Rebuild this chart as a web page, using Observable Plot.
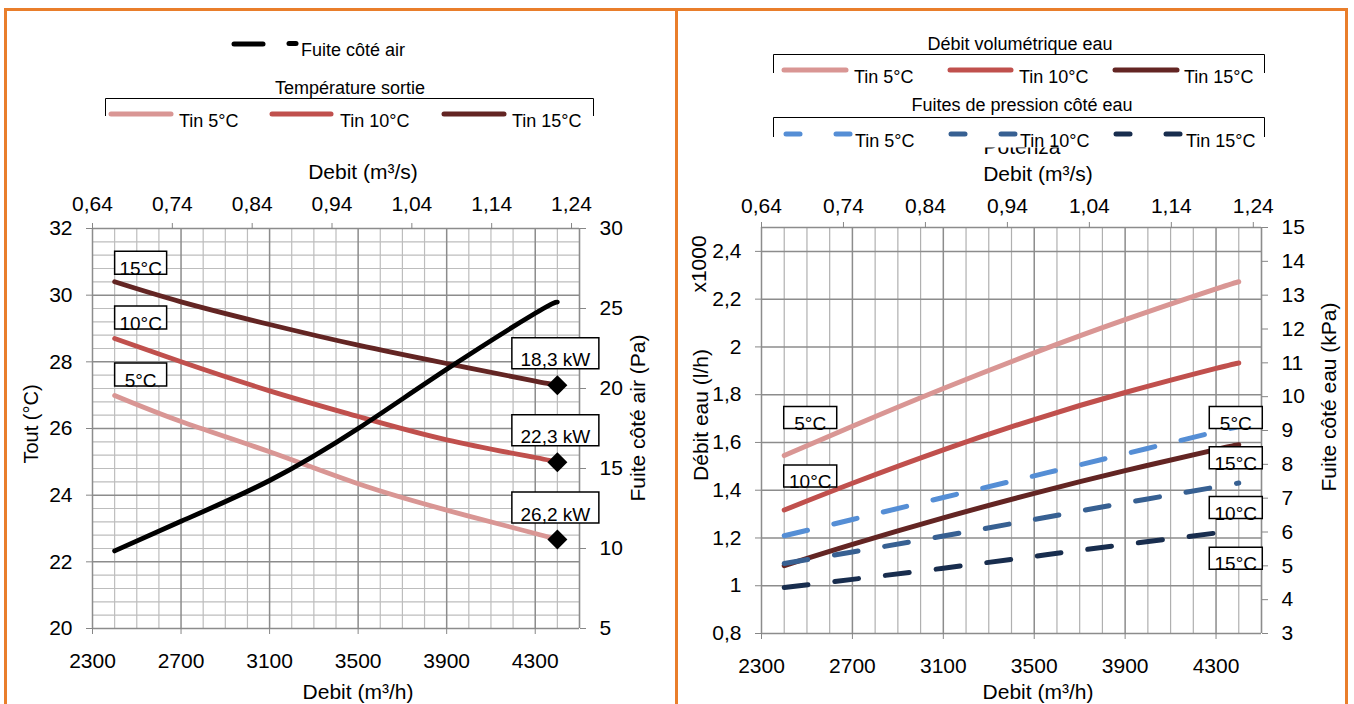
<!DOCTYPE html>
<html>
<head>
<meta charset="utf-8">
<script src="https://cdn.jsdelivr.net/npm/d3@7"></script>
<script src="https://cdn.jsdelivr.net/npm/@observablehq/plot@0.6"></script>
<style>
  body { margin: 0; background: #fff; }
  #root { position: relative; width: 1354px; height: 704px; overflow: hidden; font-family: "Liberation Sans", Arial, sans-serif; }
  .panel { position: absolute; border: 3px solid #E97E2B; box-sizing: border-box; }
  #chartL, #chartR { position: absolute; top: 0; }
  #overlay { position: absolute; left: 0; top: 0; }
</style>
</head>
<body>
<div id="root">
  <div class="panel" style="left:4px;top:8px;width:674px;height:740px"></div>
  <div class="panel" style="left:675px;top:8px;width:673px;height:740px"></div>
  <div id="chartL" style="left:0;width:675px;height:704px"></div>
  <div id="chartR" style="left:675px;width:679px;height:704px"></div>
  <svg id="overlay" width="1354" height="704"></svg>
</div>
<script>
// ---------- DATA ----------
const debit = [2400, 2700, 3100, 3500, 3900, 4300, 4400];           // m3/h
const toutTin5  = [26.99, 26.21, 25.30, 24.34, 23.55, 22.85, 22.67];   // °C
const toutTin10 = [28.70, 28.00, 27.13, 26.36, 25.66, 25.13, 24.99];
const toutTin15 = [30.40, 29.80, 29.12, 28.50, 27.95, 27.42, 27.30];
const fuiteAirPa = [9.85, 11.70, 14.25, 17.50, 21.20, 24.70, 25.40];  // Pa
const puissance = ["26,2 kW", "22,3 kW", "18,3 kW"];                  // Tin 5, 10, 15
const debitEauTin5  = [1.545, 1.668, 1.826, 1.975, 2.114, 2.243, 2.273]; // x1000 l/h
const debitEauTin10 = [1.317, 1.429, 1.569, 1.696, 1.809, 1.910, 1.933];
const debitEauTin15 = [1.084, 1.173, 1.284, 1.387, 1.482, 1.570, 1.590];
const fuiteEauTin5  = [5.89, 6.37, 7.02, 7.66, 8.31, 8.96, 9.12];     // kPa
const fuiteEauTin10 = [5.07, 5.41, 5.88, 6.37, 6.86, 7.33, 7.45];
const fuiteEauTin15 = [4.36, 4.60, 4.93, 5.28, 5.63, 5.97, 6.05];
const series = ["Tin 5°C", "Tin 10°C", "Tin 15°C"];
const seriesShort = ["5°C", "10°C", "15°C"];
const ticksDebitH = [2300, 2700, 3100, 3500, 3900, 4300];
const ticksDebitS = [0.64, 0.74, 0.84, 0.94, 1.04, 1.14, 1.24];
const ticksTout = [20, 22, 24, 26, 28, 30, 32];
const ticksPa = [5, 10, 15, 20, 25, 30];
const ticksDebitEau = [0.8, 1, 1.2, 1.4, 1.6, 1.8, 2, 2.2, 2.4];
const ticksKPa = [3, 4, 5, 6, 7, 8, 9, 10, 11, 12, 13, 14, 15];

// ---------- STYLE ----------
const FONT = '"Liberation Sans", Arial, sans-serif';
const colTemp = ["#D99694", "#C0504D", "#632523"];
const colPress = ["#558ED5", "#376092", "#182D4E"];
const cMinor = "#BDBDBD", cMajor = "#8C8C8C", cTick = "#868686";
const fmt = v => String(v).replace(".", ",");

// secondary-axis conversions
const yPa = v => 20 + (v - 5) * 12 / 25;
const paFromY = y => 5 + (y - 20) * 25 / 12;
const xFromS = v => 2300 + (v - 0.64) * 2200 / 0.61;
const sFromX = x => 0.64 + (x - 2300) * 0.61 / 2200;
const yK = v => 0.8 + (v - 3) * 1.7 / 12;
const kFromY = y => 3 + (y - 0.8) * 12 / 1.7;

const last = debit.length - 1;
const toutSeries = [toutTin5, toutTin10, toutTin15];
const eauSeries = [debitEauTin5, debitEauTin10, debitEauTin15];
const pressSeries = [fuiteEauTin5, fuiteEauTin10, fuiteEauTin15];

function axes(bottomTicks, topTicks, leftTicks, rightTicks, o) {
  const common = {fontSize: 21, stroke: cTick, label: null};
  return [
    Plot.axisX(bottomTicks, {...common, anchor: "bottom", tickSize: 6, tickPadding: o.bp, tickFormat: d => String(d)}),
    Plot.axisX(topTicks.map(xFromS), {...common, anchor: "top", tickSize: 6, tickPadding: o.tp, tickFormat: d => sFromX(d).toFixed(2).replace(".", ",")}),
    Plot.axisY(leftTicks.ticks, {...common, anchor: "left", tickSize: 6, tickPadding: 14, tickFormat: leftTicks.format}),
    Plot.axisY(rightTicks.ticks, {...common, anchor: "right", tickSize: 6, tickPadding: 14, tickFormat: rightTicks.format})
  ];
}

// rectangular symbol for boxed data labels
const boxSymbol = (w, h) => ({draw(ctx) { ctx.rect(-w / 2, -h / 2, w, h); }});

function boxLabel(a) {
  return [
    Plot.dot([a], {x: "x", y: "y", dx: a.dx, dy: a.dy, symbol: boxSymbol(a.w, a.h), r: 5,
      fill: "#fff", stroke: "#000", strokeWidth: 1.5}),
    Plot.text([a], {x: "x", y: "y", text: "text", dx: a.dx, dy: a.dy + a.t, fontSize: 19, fill: "#000",
      textAnchor: "middle", lineAnchor: "middle"})
  ];
}

// ---------- LEFT CHART ----------
const annotL = [
  {text: seriesShort[2], x: debit[0], y: toutTin15[0], dx: 26, dy: -19, w: 52, h: 23, t: 6},
  {text: seriesShort[1], x: debit[0], y: toutTin10[0], dx: 26, dy: -21, w: 52, h: 23, t: 6},
  {text: seriesShort[0], x: debit[0], y: toutTin5[0], dx: 26, dy: -21, w: 52, h: 23, t: 6},
  {text: puissance[2], x: debit[last], y: toutTin15[last], dx: -2, dy: -32, w: 87, h: 31, t: 7},
  {text: puissance[1], x: debit[last], y: toutTin10[last], dx: -2, dy: -32, w: 87, h: 31, t: 7},
  {text: puissance[0], x: debit[last], y: toutTin5[last], dx: -2, dy: -32, w: 87, h: 31, t: 7}
];
const endRows = toutSeries.map((s, i) => ({debit: debit[last], tout: s[last], label: puissance[i]}));

const minorYL = d3.range(0, 31).filter(i => i % 5 !== 0).map(i => 20 + i * 0.4);
const minorXs = d3.range(2300, 4501, 100).filter(v => (v - 2300) % 400 !== 0);
const majorXs = d3.range(2300, 4501, 400).concat([4500]);

const left = Plot.plot({
  width: 675, height: 704,
  marginLeft: 92, marginRight: 96, marginTop: 228, marginBottom: 76,
  x: {domain: [2300, 4500], label: null},
  y: {domain: [20, 32], label: null},
  style: {fontFamily: FONT, color: "#000", background: "transparent", overflow: "visible"},
  marks: [
    Plot.ruleX(minorXs, {stroke: cMinor, strokeWidth: 1.2}),
    Plot.ruleY(minorYL, {stroke: cMinor, strokeWidth: 1.2}),
    Plot.ruleX(majorXs, {stroke: cMajor, strokeWidth: 1.5}),
    Plot.ruleY(ticksTout, {stroke: cMajor, strokeWidth: 1.5}),
    ...axes(ticksDebitH, ticksDebitS,
      {ticks: ticksTout, format: d => String(d)},
      {ticks: ticksPa.map(yPa), format: d => String(Math.round(paFromY(d)))},
      {bp: 19, tp: 12}),
    ...toutSeries.map((s, i) => Plot.line(debit, {x: debit, y: s, stroke: colTemp[i], strokeWidth: 4.8,
      strokeLinecap: "round", curve: "natural"})),
    Plot.line(debit, {x: debit, y: fuiteAirPa.map(yPa), stroke: "#000", strokeWidth: 4.8, strokeLinecap: "round", curve: "natural"}),
    Plot.dot(endRows, {x: "debit", y: "tout", symbol: "diamond2", r: 9, fill: "#000", stroke: "none"}),
    ...annotL.flatMap(boxLabel)
  ]
});
document.getElementById("chartL").appendChild(left);

// ---------- RIGHT CHART ----------
const annotR = [
  {text: seriesShort[0], x: debit[0], y: debitEauTin5[0], dx: 26, dy: -38, w: 53, h: 22, t: 6},
  {text: seriesShort[1], x: debit[0], y: debitEauTin10[0], dx: 26, dy: -34, w: 53, h: 22, t: 6},
  {text: seriesShort[0], x: debit[last], y: yK(fuiteEauTin5[last]), dx: -3, dy: -9, w: 53, h: 22, t: 6},
  {text: seriesShort[2], x: debit[last], y: debitEauTin15[last], dx: -3, dy: 13, w: 53, h: 22, t: 6},
  {text: seriesShort[1], x: debit[last], y: yK(fuiteEauTin10[last]), dx: -3, dy: 24.5, w: 53, h: 22, t: 6},
  {text: seriesShort[2], x: debit[last], y: yK(fuiteEauTin15[last]), dx: -3, dy: 28, w: 53, h: 22, t: 6}
];

const right = Plot.plot({
  width: 679, height: 704,
  marginLeft: 86, marginRight: 93, marginTop: 227, marginBottom: 71,
  x: {domain: [2300, 4500], label: null},
  y: {domain: [0.8, 2.5], label: null},
  style: {fontFamily: FONT, color: "#000", background: "transparent", overflow: "visible"},
  marks: [
    Plot.ruleX(minorXs, {stroke: "#B0B0B0", strokeWidth: 1.2}),
    Plot.ruleX(majorXs, {stroke: cMajor, strokeWidth: 1.5}),
    Plot.ruleY(ticksDebitEau.concat([2.5]), {stroke: cMajor, strokeWidth: 1.5}),
    ...axes(ticksDebitH, ticksDebitS,
      {ticks: ticksDebitEau, format: d => fmt(d)},
      {ticks: ticksKPa.map(yK), format: d => String(Math.round(kFromY(d)))},
      {bp: 19, tp: 9}),
    ...eauSeries.map((s, i) => Plot.line(debit, {x: debit, y: s, stroke: colTemp[i], strokeWidth: 5,
      strokeLinecap: "round", curve: "natural"})),
    ...pressSeries.map((s, i) => Plot.line(debit, {x: debit, y: s.map(yK), stroke: colPress[i], strokeWidth: 5,
      strokeLinecap: "round", strokeDasharray: "24,27", curve: "natural"})),
    ...annotR.flatMap(boxLabel)
  ]
});
document.getElementById("chartR").appendChild(right);

// ---------- LEGENDS & AXIS TITLES ----------
const ov = d3.select("#overlay").attr("font-family", FONT);
function txt(x, y, s, size, anchor = "start", rot = null) {
  const t = ov.append("text").attr("x", x).attr("y", y).attr("font-size", size)
    .attr("text-anchor", anchor).attr("fill", "#000").text(s);
  if (rot !== null) t.attr("transform", `rotate(${rot},${x},${y})`).attr("dominant-baseline", "central");
  return t;
}
function seg(x1, x2, y, color) {
  ov.append("line").attr("x1", x1).attr("x2", x2).attr("y1", y).attr("y2", y)
    .attr("stroke", color).attr("stroke-width", 5).attr("stroke-linecap", "round");
}
function bracket(x1, x2, y, yEnd) {
  ov.append("path").attr("d", `M${x1},${yEnd}V${y}H${x2}V${yEnd}`)
    .attr("fill", "none").attr("stroke", "#000").attr("stroke-width", 1);
}

// left legend
seg(234, 263, 44, "#000");
seg(289, 296, 43.5, "#000");
txt(301, 56, "Fuite côté air", 18);
txt(350, 94, "Température sortie", 18, "middle");
bracket(105.5, 593.5, 98.5, 116);
[[111, 171, 179], [272, 331, 340], [444, 504, 512]].forEach(([a, b, tx], i) => {
  seg(a, b, 114, colTemp[i]);
  txt(tx, 127, series[i], 18);
});

// right legend
txt(1022, 154, "Potenza", 21, "middle");
ov.append("rect").attr("x", 960).attr("y", 118).attr("width", 130).attr("height", 29.5).attr("fill", "#fff");
txt(1020, 50, "Débit volumétrique eau", 18, "middle");
bracket(773.5, 1264.5, 54.5, 73);
[[784, 846, 854], [950, 1011, 1019], [1115, 1177, 1184]].forEach(([a, b, tx], i) => {
  seg(a, b, 70, colTemp[i]);
  txt(tx, 83, series[i], 18);
});
txt(1022, 111, "Fuites de pression côté eau", 18, "middle");
bracket(773.5, 1264.5, 117.5, 137);
[[786, 800, 836, 850, 855], [951, 965, 1001, 1015, 1020], [1116, 1130, 1166, 1180, 1186]].forEach(([a, b, c, d, tx], i) => {
  seg(a, b, 134, colPress[i]);
  seg(c, d, 134, colPress[i]);
  txt(tx, 147, series[i], 18);
});

// axis titles
txt(363, 179, "Debit (m³/s)", 21, "middle");
txt(358, 699, "Debit (m³/h)", 21, "middle");
txt(31, 424, "Tout (°C)", 20, "middle", -90);
txt(637, 418, "Fuite côté air (Pa)", 21, "middle", -90);
txt(1038, 181, "Debit (m³/s)", 21, "middle");
txt(1038, 699, "Debit (m³/h)", 21, "middle");
txt(698, 264, "x1000", 21, "middle", -90);
txt(700, 415, "Débit eau (l/h)", 21, "middle", -90);
txt(1328, 397, "Fuite côté eau (kPa)", 21, "middle", -90);
</script>
</body>
</html>
